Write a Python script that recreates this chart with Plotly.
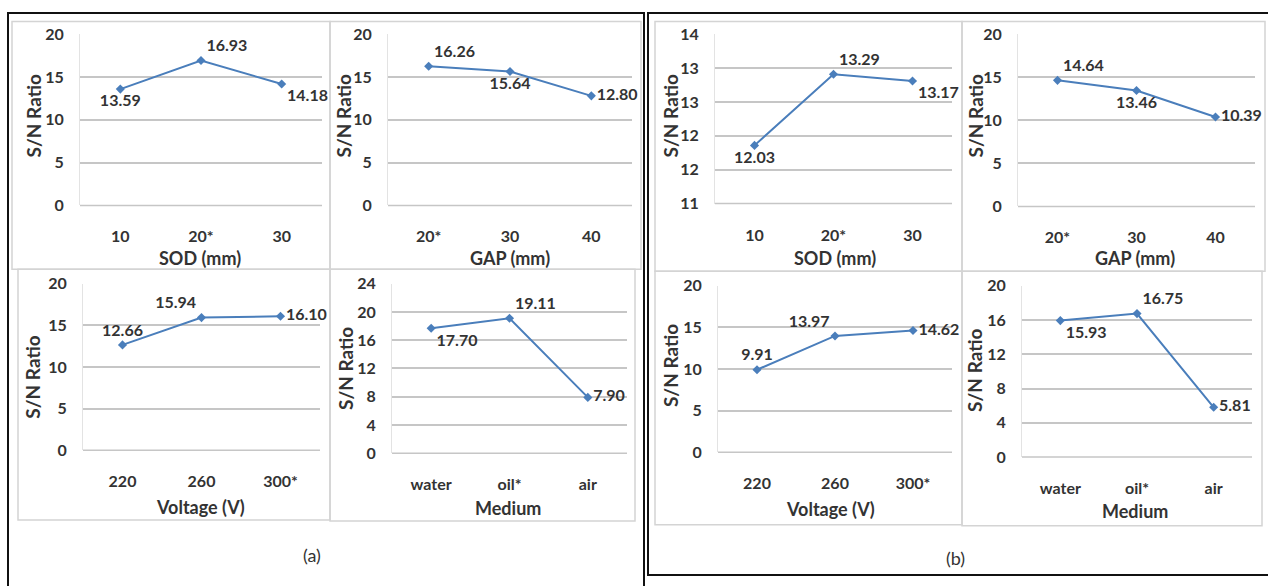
import plotly.graph_objects as go

W, H = 1268, 586

# ---- data ----
sod_cats = ["10", "20*", "30"]
gap_cats = ["20*", "30", "40"]
volt_cats = ["220", "260", "300*"]
med_cats = ["water", "oil*", "air"]

a_sod = [13.59, 16.93, 14.18]
a_gap = [16.26, 15.64, 12.80]
a_volt = [12.66, 15.94, 16.10]
a_med = [17.70, 19.11, 7.90]

b_sod = [12.03, 13.29, 13.17]
b_gap = [14.64, 13.46, 10.39]
b_volt = [9.91, 13.97, 14.62]
b_med = [15.93, 16.75, 5.81]

x_titles = ["SOD (mm)", "GAP (mm)", "Voltage (V)", "Medium"]
y_title = "S/N Ratio"
panel_labels = ["(a)", "(b)"]

LINE = "#4a7ebb"
GRID = "#c6c6c6"
TXT = "#333333"
FONT = "Lato"

specs = [
    (sod_cats, a_sod, ["bottom center", "top right", "bottom right"], (80, 322, 25, 202), (0, 20), 5, None, (200, 256), (33, 110)),
    (gap_cats, a_gap, ["top right", "bottom center", "middle right"], (388, 632, 25, 202), (0, 20), 5, None, (510, 256), (343, 110)),
    (volt_cats, a_volt, ["top center", "top left", "middle right"], (83, 320, 283, 455), (0, 20), 5, None, (200, 514), (33, 380)),
    (med_cats, a_med, ["bottom right", "top right", "middle right"], (392, 627, 283, 458), (0, 24), 4, None, (508, 515), (345, 370)),
    (sod_cats, b_sod, ["bottom center", "top right", "bottom right"], (715, 952, 25, 200), (11, 14), 0.6, ".0f", (835, 256), (670, 110)),
    (gap_cats, b_gap, ["top right", "bottom center", "middle right"], (1018, 1255, 25, 203), (0, 20), 5, None, (1135, 256), (975, 110)),
    (volt_cats, b_volt, ["top center", "top left", "middle right"], (718, 952, 285, 457), (0, 20), 5, None, (830, 516), (670, 368)),
    (med_cats, b_med, ["bottom right", "top right", "middle right"], (1022, 1252, 285, 462), (0, 20), 4, None, (1135, 518), (975, 373)),
]
xt_idx = [0, 1, 2, 3, 0, 1, 2, 3]

fig = go.Figure()
annotations = []
shapes = []

def px_x(v):
    return v / W

def px_y(v):
    return 1 - v / H

for i, (cats, vals, tpos, (x0, x1, y0, y1), yr, dt, tf, (tx, ty), (yx, yy)) in enumerate(specs):
    n = "" if i == 0 else str(i + 1)
    fig.add_trace(go.Scatter(
        x=cats, y=vals, mode="lines+markers+text",
        text=[f"{v:.2f}" for v in vals], textposition=tpos,
        textfont=dict(family=FONT, size=16, color=TXT, weight="bold"),
        line=dict(color=LINE, width=2),
        marker=dict(symbol="diamond", size=7, color=LINE),
        xaxis="x" + n, yaxis="y" + n, showlegend=False, cliponaxis=False,
    ))
    fig.layout["xaxis" + n] = dict(
        domain=[px_x(x0), px_x(x1)], anchor="y" + n, type="category",
        range=[-0.5, 2.5], showgrid=False, zeroline=False, showline=False,
        ticks="", ticklabelstandoff=20,
        tickfont=dict(family=FONT, size=16, color=TXT, weight="bold"),
    )
    ya = dict(
        domain=[px_y(y1), px_y(y0)], anchor="x" + n, range=list(yr),
        tick0=yr[0], dtick=dt, showgrid=True, gridcolor=GRID, gridwidth=1.5,
        zeroline=False, showline=True, linecolor="#e3e3e3", linewidth=1,
        ticks="", ticklabelstandoff=12,
        tickfont=dict(family=FONT, size=16, color=TXT, weight="bold"),
    )
    if tf:
        ya["tickformat"] = tf
    fig.layout["yaxis" + n] = ya
    shapes.append(dict(type="line", xref="paper", yref="paper",
                       x0=px_x(x0), x1=px_x(x1), y0=px_y(y1), y1=px_y(y1),
                       line=dict(color=GRID, width=1.5)))
    annotations.append(dict(text=x_titles[xt_idx[i]], x=px_x(tx), y=px_y(ty),
                            xref="paper", yref="paper", showarrow=False,
                            font=dict(family=FONT, size=18, color=TXT, weight="bold"),
                            xanchor="center", yanchor="middle"))
    annotations.append(dict(text=y_title, x=px_x(yx), y=px_y(yy), textangle=-90,
                            xref="paper", yref="paper", showarrow=False,
                            font=dict(family=FONT, size=19, color=TXT, weight="bold"),
                            xanchor="center", yanchor="middle"))

boxes = [(12, 330, 12, 268), (330, 641, 12, 268), (18, 330, 268, 527), (330, 635, 268, 528),
         (655, 962, 12, 270), (962, 1265, 12, 270), (655, 962, 270, 532), (962, 1262, 270, 533)]
for (bx0, bx1, by0, by1) in boxes:
    shapes.append(dict(type="rect", xref="paper", yref="paper",
                       x0=px_x(bx0), x1=px_x(bx1), y0=px_y(by1), y1=px_y(by0),
                       line=dict(color="#d4d4d4", width=1.5), layer="below"))

shapes.append(dict(type="rect", xref="paper", yref="paper",
                   x0=px_x(8), x1=px_x(644), y0=px_y(600), y1=px_y(3),
                   line=dict(color="#111111", width=2)))
shapes.append(dict(type="rect", xref="paper", yref="paper",
                   x0=px_x(648), x1=px_x(1280), y0=px_y(584), y1=px_y(3),
                   line=dict(color="#111111", width=2)))

for lab, (lx, ly) in zip(panel_labels, [(312, 563), (955, 566)]):
    annotations.append(dict(text=lab, x=px_x(lx), y=px_y(ly), xref="paper", yref="paper",
                            showarrow=False, font=dict(family=FONT, size=18, color=TXT),
                            xanchor="center", yanchor="middle"))

fig.update_layout(width=W, height=H, margin=dict(l=0, r=0, t=0, b=0),
                  paper_bgcolor="white", plot_bgcolor="white",
                  annotations=annotations, shapes=shapes)

fig.write_html("out.html", config={"displayModeBar": False},
               post_script="document.body.style.margin='0';document.body.style.overflow='hidden';")
